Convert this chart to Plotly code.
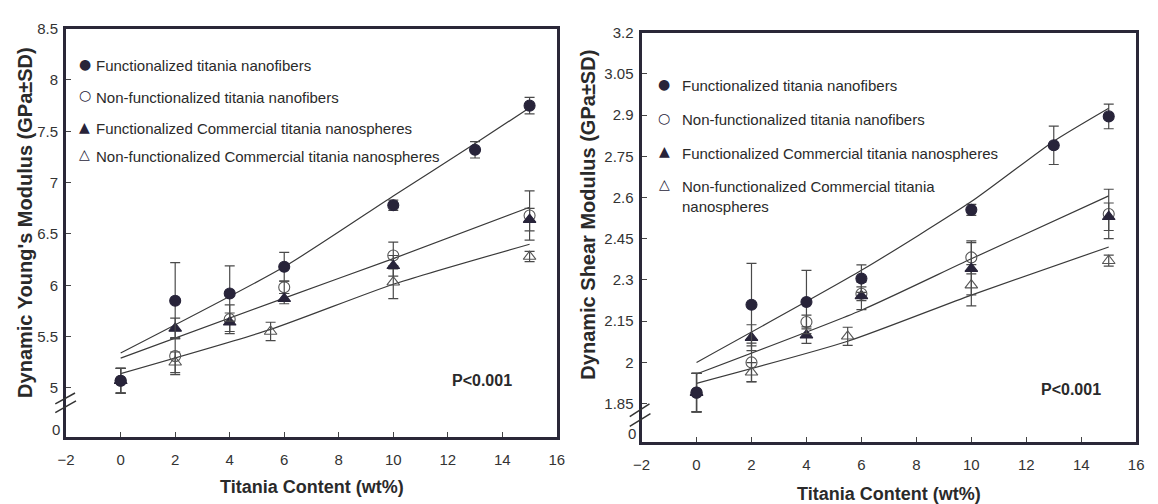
import plotly.graph_objects as go

W, H = 1158, 504

# ---------------- DATA ----------------
# Left panel: Dynamic Young's Modulus (GPa)
L_fn_x = [0, 2, 4, 6, 10, 13, 15]
L_fn_y = [5.07, 5.85, 5.92, 6.18, 6.78, 7.32, 7.75]
L_fn_e = [0.12, 0.37, 0.27, 0.14, 0.05, 0.08, 0.08]

L_nfn_x = [0, 2, 4, 6, 10, 15]
L_nfn_y = [5.07, 5.31, 5.67, 5.98, 6.29, 6.68]
L_nfn_e = [0.12, 0.18, 0.14, 0.06, 0.13, 0.24]

L_fc_x = [0, 2, 4, 6, 10, 15]
L_fc_y = [5.07, 5.58, 5.64, 5.87, 6.19, 6.64]
L_fc_e = [0.12, 0.10, 0.09, 0.05, 0.10, 0.11]

L_nfc_x = [0, 2, 5.5, 10, 15]
L_nfc_y = [5.07, 5.25, 5.55, 6.03, 6.28]
L_nfc_e = [0.12, 0.10, 0.09, 0.16, 0.05]

# regression lines (left)
L_fit1_x = [0, 6, 10, 13, 15]
L_fit1_y = [5.34, 6.18, 6.87, 7.38, 7.73]
L_fit2_x = [0, 6, 10, 15]
L_fit2_y = [5.29, 5.875, 6.26, 6.76]
L_fit3_x = [0, 5.5, 10, 15]
L_fit3_y = [5.14, 5.57, 6.01, 6.40]

# Right panel: Dynamic Shear Modulus (GPa)
R_fn_x = [0, 2, 4, 6, 10, 13, 15]
R_fn_y = [1.89, 2.21, 2.22, 2.305, 2.555, 2.79, 2.895]
R_fn_e = [0.07, 0.15, 0.115, 0.05, 0.02, 0.07, 0.045]

R_nfn_x = [0, 2, 4, 6, 10, 15]
R_nfn_y = [1.89, 2.00, 2.147, 2.25, 2.382, 2.54]
R_nfn_e = [0.07, 0.07, 0.025, 0.025, 0.06, 0.09]

R_fc_x = [0, 2, 4, 6, 10, 15]
R_fc_y = [1.89, 2.09, 2.099, 2.242, 2.341, 2.53]
R_fc_e = [0.07, 0.047, 0.03, 0.05, 0.095, 0.05]

R_nfc_x = [0, 2, 5.5, 10, 15]
R_nfc_y = [1.89, 1.964, 2.095, 2.281, 2.37]
R_nfc_e = [0.07, 0.035, 0.033, 0.075, 0.02]

# regression lines (right)
R_fit1_x = [0, 6, 10, 13, 15]
R_fit1_y = [2.0, 2.335, 2.585, 2.805, 2.925]
R_fit2_x = [0, 6, 10, 15]
R_fit2_y = [1.958, 2.19, 2.377, 2.606]
R_fit3_x = [0, 5.5, 10, 15]
R_fit3_y = [1.924, 2.077, 2.245, 2.42]

x_ticks = [-2, 0, 2, 4, 6, 8, 10, 12, 14, 16]
L_yticks = [5, 5.5, 6, 6.5, 7, 7.5, 8, 8.5]
L_yticktext = ["5", "5.5", "6", "6.5", "7", "7.5", "8", "8.5"]
R_yticks = [1.85, 2.0, 2.15, 2.3, 2.45, 2.6, 2.75, 2.9, 3.05, 3.2]
R_yticktext = ["1.85", "2", "2.15", "2.3", "2.45", "2.6", "2.75", "2.9", "3.05", "3.2"]

legend_names = ["Functionalized titania nanofibers",
                "Non-functionalized titania nanofibers",
                "Functionalized Commercial titania nanospheres",
                "Non-functionalized Commercial titania nanospheres"]
legend_glyphs = ["●", "○", "▲", "△"]

# ---------------- STYLE ----------------
FONT = "Liberation Sans, Arial, sans-serif"
DARK = "#28243a"
TXT = "#2a2a2a"
LINE = "#3a3a3a"
ERR = "#4a4a4a"


def px(x):
    return x / W


def py(y):
    return 1 - y / H


fig = go.Figure()


def add_panel(xa, ya, fits, series):
    for fx, fy in fits:
        fig.add_trace(go.Scatter(x=fx, y=fy, mode="lines", xaxis=xa, yaxis=ya,
                                 line=dict(color=LINE, width=1.2, shape="spline", smoothing=0.6),
                                 showlegend=False, hoverinfo="skip"))
    for (sx, sy, se, sym, col, lcol) in series:
        fig.add_trace(go.Scatter(
            x=sx, y=sy, mode="markers", xaxis=xa, yaxis=ya, showlegend=False,
            marker=dict(symbol=sym, size=11, color=col, line=dict(color=lcol, width=1.1)),
            error_y=dict(type="data", array=se, visible=True, color=ERR, thickness=1.2, width=5)))


add_panel("x", "y",
          [(L_fit1_x, L_fit1_y), (L_fit2_x, L_fit2_y), (L_fit3_x, L_fit3_y)],
          [(L_nfc_x, L_nfc_y, L_nfc_e, "triangle-up-open", "#555555", "#555555"),
           (L_nfn_x, L_nfn_y, L_nfn_e, "circle-open", "#555555", "#555555"),
           (L_fc_x, L_fc_y, L_fc_e, "triangle-up", DARK, DARK),
           (L_fn_x, L_fn_y, L_fn_e, "circle", DARK, DARK)])
add_panel("x2", "y2",
          [(R_fit1_x, R_fit1_y), (R_fit2_x, R_fit2_y), (R_fit3_x, R_fit3_y)],
          [(R_nfc_x, R_nfc_y, R_nfc_e, "triangle-up-open", "#555555", "#555555"),
           (R_nfn_x, R_nfn_y, R_nfn_e, "circle-open", "#555555", "#555555"),
           (R_fc_x, R_fc_y, R_fc_e, "triangle-up", DARK, DARK),
           (R_fn_x, R_fn_y, R_fn_e, "circle", DARK, DARK)])

axis_common = dict(showgrid=False, zeroline=False, showline=True, linewidth=3,
                   linecolor="#2a2838", mirror=True, ticks="inside", ticklen=5,
                   tickwidth=1, tickcolor="#444", tickfont=dict(family=FONT, size=15, color="#333"))

fig.update_layout(
    width=W, height=H, margin=dict(l=0, r=0, t=0, b=0),
    paper_bgcolor="white", plot_bgcolor="white", showlegend=False,
    xaxis=dict(domain=[px(58), px(556)], range=[-2, 16], tickvals=x_ticks,
               anchor="y", ticklabelstandoff=7, **axis_common),
    yaxis=dict(domain=[py(436), py(20)], range=[4.52, 8.5], tickvals=L_yticks,
               ticktext=L_yticktext, anchor="x", ticklabelstandoff=2, **axis_common),
    xaxis2=dict(domain=[px(642), px(1144)], range=[-2, 16], tickvals=x_ticks,
                anchor="y2", ticklabelstandoff=7, **axis_common),
    yaxis2=dict(domain=[py(441), py(24)], range=[1.71, 3.2], tickvals=R_yticks,
                ticktext=R_yticktext, anchor="x2", ticklabelstandoff=2, **axis_common),
)

ann = []
# axis titles
ann.append(dict(text="<b>Dynamic Young's Modulus (GPa±SD)</b>", x=px(16), y=py(217),
                textangle=-90, font=dict(family=FONT, size=20, color=TXT)))
ann.append(dict(text="<b>Dynamic Shear Modulus (GPa±SD)</b>", x=px(588), y=py(209),
                textangle=-90, font=dict(family=FONT, size=20, color=TXT)))
ann.append(dict(text="<b>Titania Content (wt%)</b>", x=px(308), y=py(487),
                font=dict(family=FONT, size=18, color=TXT)))
ann.append(dict(text="<b>Titania Content (wt%)</b>", x=px(893), y=py(494),
                font=dict(family=FONT, size=18, color=TXT)))
# broken axis "0" labels
ann.append(dict(text="0", x=px(54), y=py(428), xanchor="right",
                font=dict(family=FONT, size=15, color="#333")))
ann.append(dict(text="0", x=px(638), y=py(432), xanchor="right",
                font=dict(family=FONT, size=15, color="#333")))
# P values
ann.append(dict(text="<b>P<0.001</b>", x=px(480), y=py(378),
                font=dict(family=FONT, size=16, color=TXT)))
ann.append(dict(text="<b>P<0.001</b>", x=px(1078), y=py(387),
                font=dict(family=FONT, size=16, color=TXT)))

# legends (text annotations with symbol glyphs)
L_leg_y = [58, 90, 122, 150]
for g, name, yy in zip(legend_glyphs, legend_names, L_leg_y):
    ann.append(dict(text=g, x=px(77), y=py(yy - 2), font=dict(family="DejaVu Sans", size=14, color=DARK)))
    ann.append(dict(text=name, x=px(86), y=py(yy), xanchor="left",
                    font=dict(family=FONT, size=15, color=TXT)))
R_leg_y = [78, 113, 147, 180]
for g, name, yy in zip(legend_glyphs, legend_names[:3], R_leg_y[:3]):
    ann.append(dict(text=g, x=px(665), y=py(yy - 2), font=dict(family="DejaVu Sans", size=14, color=DARK)))
    ann.append(dict(text=name, x=px(681), y=py(yy), xanchor="left",
                    font=dict(family=FONT, size=15, color=TXT)))
ann.append(dict(text=legend_glyphs[3], x=px(665), y=py(R_leg_y[3] - 2),
                font=dict(family="DejaVu Sans", size=14, color=DARK)))
ann.append(dict(text="Non-functionalized Commercial titania<br>nanospheres", x=px(681),
                y=py(R_leg_y[3] - 10), xanchor="left", yanchor="top", align="left",
                font=dict(family=FONT, size=15, color=TXT)))

for a in ann:
    a.setdefault("xref", "paper")
    a.setdefault("yref", "paper")
    a.setdefault("showarrow", False)
    a.setdefault("xanchor", "center")
    a.setdefault("yanchor", "middle")
fig.update_layout(annotations=ann)

# axis break marks
breaks = [((47, 402), (67, 391)), ((47, 411), (68, 399)),
          ((630, 415), (650, 402)), ((630, 425), (651, 412))]
for (x0, y0), (x1, y1) in breaks:
    fig.add_shape(type="line", xref="paper", yref="paper", x0=px(x0), y0=py(y0),
                  x1=px(x1), y1=py(y1), line=dict(color="#333", width=1.5))

fig.write_html("out.html", config={"displayModeBar": False},
               post_script="document.body.style.margin='0';")
